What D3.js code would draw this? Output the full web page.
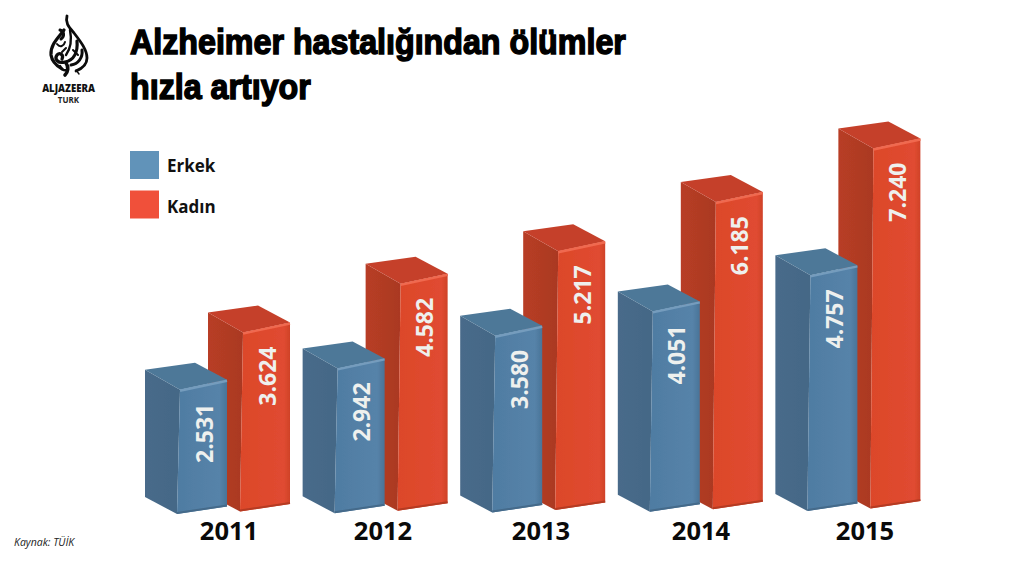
<!DOCTYPE html>
<html><head><meta charset="utf-8">
<script src="https://cdn.jsdelivr.net/npm/d3@7/dist/d3.min.js"></script>
<style>html,body{margin:0;padding:0;background:#fff}svg{display:block}</style>
</head><body><svg id="c" width="1015" height="561"></svg>
<script>
const years = ["2011","2012","2013","2014","2015"];
const erkek = [2531,2942,3580,4051,4757];
const kadin = [3624,4582,5217,6185,7240];
const seriesNames = ["Erkek","Kadın"];
const titleLines = ["Alzheimer hastalığından ölümler","hızla artıyor"];
const source = "Kaynak: TÜİK";

const svg = d3.select("#c");
const defs = svg.append("defs");
const fmt = d3.formatLocale({decimal:",",thousands:".",grouping:[3],currency:["","₺"]}).format(",d");

function grad(id, stops){
  const g = defs.append("linearGradient").attr("id",id).attr("x1",0).attr("x2",1).attr("y1",0).attr("y2",0);
  stops.forEach(s=>g.append("stop").attr("offset",s[0]).attr("stop-color",s[1]));
}
grad("bf",[[0,"#4f7ca2"],[.85,"#5683a9"],[1,"#4a7498"]]);
grad("bs",[[0,"#486b8a"],[1,"#446786"]]);
grad("rf",[[0,"#dc4729"],[.88,"#e04b31"],[1,"#cf4228"]]);
grad("rs",[[0,"#b83d25"],[1,"#aa3923"]]);
defs.append("filter").attr("id","soft").attr("x","-5%").attr("y","-5%").attr("width","110%").attr("height","110%")
  .append("feGaussianBlur").attr("stdDeviation",0.55);

const STYLE = {
  Erkek:{front:"url(#bf)",side:"url(#bs)",top:"#4e7898",edge:"#749cbd",low:"#446a8a",legend:"#6193b9"},
  "Kadın":{front:"url(#rf)",side:"url(#rs)",top:"#c5402a",edge:"#f0694f",low:"#b53b24",legend:"#f0503a"}
};

const x = d3.scaleBand().domain(years).range([177,177+157.6*5]);
const h = d3.scaleLinear().domain([0,7240]).range([-2.5,360]);
const drift = d3.scaleLinear().domain([0,4]).range([0,-3]);

const rows = years.flatMap((yr,i)=>[
  {yr,i,name:"Kadın",v:kadin[i],dx:63,dy:-2.5},
  {yr,i,name:"Erkek",v:erkek[i],dx:0,dy:0}
]);

const bars = svg.append("g").selectAll("g").data(rows).join("g");
bars.each(function(d){
  const g = d3.select(this), st = STYLE[d.name];
  const fx = x(d.yr)+d.dx, fy = 514+d.dy+drift(d.i), H = h(d.v);
  const pts = a=>a.map(p=>p.join(",")).join(" ");
  const FB=[fx,fy], RB=[fx+50,fy-7.5], LB=[fx-32,fy-17];
  const FT=[fx+3,fy-H], RT=[fx+50,fy-H-10], LT=[fx-32,fy-H-20], BT=[fx+18,fy-H-27];
  const s = g.append("g").attr("filter","url(#soft)");
  s.append("polygon").attr("points",pts([LB,FB,FT,LT])).attr("fill",st.side);
  s.append("polygon").attr("points",pts([FB,RB,RT,FT])).attr("fill",st.front);
  s.append("polygon").attr("points",pts([LT,BT,RT,FT])).attr("fill",st.top);
  s.append("line").attr("x1",FT[0]).attr("y1",FT[1]+1).attr("x2",RT[0]).attr("y2",RT[1]+1)
    .attr("stroke",st.edge).attr("stroke-width",2.4);
  s.append("line").attr("x1",FB[0]).attr("y1",FB[1]-1).attr("x2",RB[0]).attr("y2",RB[1]-1)
    .attr("stroke",st.low).attr("stroke-width",2);
  g.append("text").text(fmt(d.v))
    .attr("transform",`translate(${fx+29.5},${fy-H+14}) rotate(-90)`)
    .attr("dominant-baseline","middle")
    .attr("text-anchor","end")
    .attr("font-family","'Open Sans',sans-serif").attr("font-weight",700).attr("font-size",23)
    .attr("fill","#eef0ee");
});

// years
const yearX = [229,383,541,701,865];
svg.append("g").selectAll("text").data(years).join("text")
  .text(d=>d).attr("x",(d,i)=>yearX[i]).attr("y",540).attr("text-anchor","middle")
  .attr("font-family","'Open Sans',sans-serif").attr("font-weight",700).attr("font-size",25.5).attr("fill","#0a0a0a");

// title
svg.append("g").selectAll("text").data(titleLines).join("text")
  .text(d=>d).attr("transform",(d,i)=>`translate(130,${54+i*45}) scale(0.895,1)`)
  .attr("font-family","'Liberation Sans',sans-serif").attr("font-weight",700)
  .attr("font-size",36).attr("fill","#000").attr("stroke","#000").attr("stroke-width",1.5);

// legend
const lg = svg.append("g").selectAll("g").data(seriesNames).join("g")
  .attr("transform",(d,i)=>`translate(130,${151+i*39.5})`);
lg.append("rect").attr("width",29).attr("height",28).attr("fill",d=>STYLE[d].legend);
lg.append("text").text(d=>d).attr("x",37).attr("y",(d,i)=>21+i*1.5)
  .attr("font-family","'Open Sans',sans-serif").attr("font-weight",700).attr("font-size",17).attr("fill","#111");

// source
svg.append("text").text(source).attr("x",14).attr("y",546)
  .attr("font-family","'Open Sans',sans-serif").attr("font-style","italic").attr("font-size",10.5).attr("fill","#222");

// logo
const logo = svg.append("g").attr("fill","none").attr("stroke","#0c0c0c").attr("stroke-linecap","round");
[
 ["M67 16C65 23 69 27 74 33C81 42 87 50 87 58C87 65 81 69 76 71",2.8],
 ["M64 30C58 38 50 45 51 55C52 62 57 66 62 69",3.2],
 ["M60 30C64 31 65 36 61 39",3],
 ["M70 30C72 40 71 48 66 55",2.4],
 ["M77 41C78 52 74 60 65 62C58 64 54 59 57 55C60 52 64 55 62 59",3.2],
 ["M82 50C83 58 78 64 71 65",3],
 ["M57 44C60 48 64 46 65 42",2],
 ["M66 63C69 67 68 72 65 75",3.6],
 ["M60 66C62 70 64 71 67 70",2.4],
 ["M73 50L78 55M66 48L62 52",2],
 ["M76 70L79 74",1.4]
].forEach(p=>logo.append("path").attr("d",p[0]).attr("stroke-width",p[1]));
svg.append("text").text("ALJAZEERA").attr("x",68.5).attr("y",92).attr("text-anchor","middle")
  .attr("font-family","'Open Sans',sans-serif").attr("font-weight",800).attr("font-size",9.6).attr("fill","#111");
svg.append("text").text("TURK").attr("x",68.5).attr("y",103).attr("text-anchor","middle")
  .attr("font-family","'Open Sans',sans-serif").attr("font-weight",700).attr("font-size",8).attr("fill","#222");
</script></body></html>
